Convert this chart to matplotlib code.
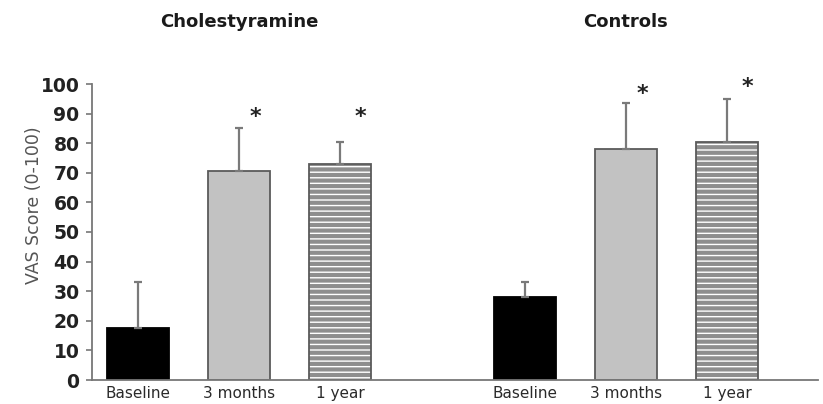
import matplotlib
matplotlib.use("Agg")
import matplotlib.pyplot as plt
import numpy as np

plt.rcParams['hatch.linewidth'] = 3.0

groups = ["Cholestyramine", "Controls"]
timepoints = ["Baseline", "3 months", "1 year"]
chol_means = [17.5, 70.5, 73]
chol_sd = [15.5, 14.5, 7.5]
ctrl_means = [28, 78, 80.5]
ctrl_sd = [5, 15.5, 14.5]
star_y_chol = [None, 89, 89]
star_y_ctrl = [None, 96.5, 99]
yticks = list(range(0, 101, 10))

fig = plt.figure(figsize=(8.23, 4.04), dpi=100)
ax = fig.add_axes([92/823, 1-380/404, (818-92)/823, (380-84)/404])

spacing = 1.01
width = 0.62
group_offsets = [0.0, 3.87]
star_dx = [0.16, 0.2]
face = ['black', '#c2c2c2', 'white']
edge = ['black', '#5a5a5a', '#5a5a5a']
hatch = [None, None, '---']
hatch_col = '#8e8e8e'

all_means = [chol_means, ctrl_means]
all_sd = [chol_sd, ctrl_sd]
all_stars = [star_y_chol, star_y_ctrl]

for g, off in enumerate(group_offsets):
    xs = off + np.arange(3) * spacing
    for i in range(3):
        if hatch[i]:
            ax.bar(xs[i], all_means[g][i], width=width, color=face[i],
                   edgecolor=hatch_col, linewidth=0, hatch=hatch[i], zorder=2)
            ax.bar(xs[i], all_means[g][i], width=width, fill=False,
                   edgecolor=edge[i], linewidth=1.3, zorder=2.5)
        else:
            ax.bar(xs[i], all_means[g][i], width=width, color=face[i],
                   edgecolor=edge[i], linewidth=1.3, zorder=2)
        ax.errorbar(xs[i], all_means[g][i], yerr=[[0], [all_sd[g][i]]],
                    fmt='none', ecolor='#7a7a7a', elinewidth=1.6,
                    capsize=3, capthick=1.6, zorder=3)
        sy = all_stars[g][i]
        if sy is not None:
            ax.text(xs[i] + star_dx[i - 1], sy, '*',
                    ha='center', va='center', fontsize=16, fontweight='bold',
                    color='#222222', clip_on=False)
    ax.text(xs[1], 1.21, groups[g], transform=ax.get_xaxis_transform(),
            ha='center', va='center', fontsize=13, fontweight='bold',
            color='#1a1a1a')

xt = []
xl = []
for off in group_offsets:
    for i, t in enumerate(timepoints):
        xt.append(off + i * spacing)
        xl.append(t)

ax.set_xlim(-0.46, 6.8)
ax.set_ylim(0, 100)
ax.set_yticks(yticks)
ax.set_yticklabels([str(v) for v in yticks], fontsize=13.5, fontweight='bold',
                   color='#222222')
ax.set_xticks(xt)
ax.set_xticklabels(xl, fontsize=11, color='#2a2a2a')
ax.tick_params(axis='x', length=0, pad=4)
ax.tick_params(axis='y', length=4, width=1.2, color='#777777', pad=5)
ax.set_ylabel("VAS Score (0-100)", fontsize=12.5, color='#555555')
ax.yaxis.set_label_coords(-(92 - 43) / 726, 0.59)

for s in ['top', 'right']:
    ax.spines[s].set_visible(False)
for s in ['left', 'bottom']:
    ax.spines[s].set_color('#777777')
    ax.spines[s].set_linewidth(1.3)

fig.savefig("out.png", dpi=100)
